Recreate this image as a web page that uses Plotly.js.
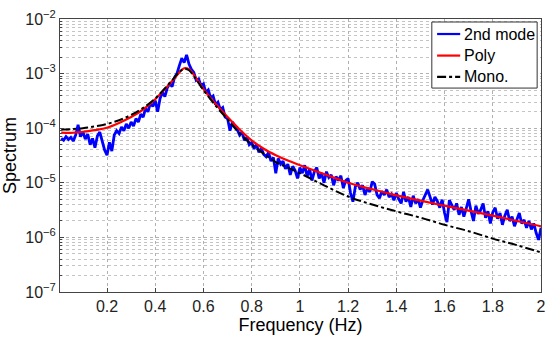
<!DOCTYPE html>
<html>
<head>
<meta charset="utf-8">
<script src="https://cdn.plot.ly/plotly-3.0.1.min.js"></script>
<style>html,body{margin:0;padding:0;background:#fff;}#chart{width:550px;height:339px;}</style>
</head>
<body>
<div id="chart"></div>
<script>
// Frequency grid of the measured spectrum (Hz)
const freqStart = 0.01;
const freqStep = 0.01;

// "2nd mode" measured spectrum, one value per 0.01 Hz from 0.01 to 2.00 Hz
const modeSpectrum = [
  6.5e-5, 6.0e-5, 7.0e-5, 6.2e-5, 6.8e-5, 5.8e-5, 7.5e-5, 1.15e-4, 7.0e-5, 8.5e-5,
  6.3e-5, 7.8e-5, 5.0e-5, 6.5e-5, 4.4e-5, 7.2e-5, 8.5e-5, 6.0e-5, 4.0e-5, 3.2e-5,
  5.5e-5, 3.8e-5, 7.5e-5, 9.0e-5, 8.0e-5, 1.05e-4, 9.0e-5, 1.2e-4, 1.0e-4, 1.3e-4,
  1.1e-4, 1.5e-4, 1.3e-4, 1.8e-4, 1.6e-4, 2.3e-4, 2.0e-4, 2.9e-4, 2.5e-4, 3.2e-4,
  2.0e-4, 3.5e-4, 4.5e-4, 3.8e-4, 5.5e-4, 6.5e-4, 5.8e-4, 8.5e-4, 1.0e-3, 1.4e-3,
  1.9e-3, 1.6e-3, 2.2e-3, 1.5e-3, 1.2e-3, 1.05e-3, 7.5e-4, 8.0e-4, 6.0e-4, 6.5e-4,
  4.5e-4, 5.0e-4, 3.6e-4, 3.9e-4, 2.7e-4, 3.0e-4, 2.2e-4, 2.4e-4, 1.6e-4, 1.5e-4,
  9.0e-5, 1.3e-4, 1.1e-4, 9.5e-5, 7.5e-5, 8.5e-5, 6.0e-5, 6.8e-5, 5.0e-5, 5.5e-5,
  4.2e-5, 5.0e-5, 3.6e-5, 4.3e-5, 3.3e-5, 3.0e-5, 3.6e-5, 2.5e-5, 2.9e-5, 1.5e-5,
  2.8e-5, 2.2e-5, 2.5e-5, 1.8e-5, 2.2e-5, 1.4e-5, 2.0e-5, 1.7e-5, 1.2e-5, 1.9e-5,
  1.5e-5, 2.1e-5, 1.3e-5, 1.8e-5, 1.1e-5, 1.6e-5, 1.9e-5, 1.2e-5, 1.5e-5, 1.0e-5,
  1.6e-5, 1.25e-5, 1.4e-5, 9.0e-6, 1.3e-5, 1.1e-5, 1.35e-5, 8.0e-6, 1.1e-5, 1.2e-5,
  6.5e-6, 4.5e-6, 8.5e-6, 1.0e-5, 7.5e-6, 9.0e-6, 6.0e-6, 8.0e-6, 6.8e-6, 1.05e-5,
  9.5e-6, 6.0e-6, 5.2e-6, 7.0e-6, 6.0e-6, 7.5e-6, 5.5e-6, 6.2e-6, 4.8e-6, 6.5e-6,
  5.0e-6, 4.2e-6, 6.8e-6, 4.5e-6, 5.5e-6, 3.6e-6, 5.8e-6, 4.2e-6, 5.0e-6, 3.5e-6,
  4.8e-6, 6.0e-6, 7.5e-6, 5.5e-6, 4.0e-6, 5.5e-6, 4.6e-6, 3.5e-6, 4.9e-6, 2.8e-6,
  1.9e-6, 4.8e-6, 4.0e-6, 3.2e-6, 4.2e-6, 2.6e-6, 3.6e-6, 2.4e-6, 3.4e-6, 5.0e-6,
  3.0e-6, 2.0e-6, 3.8e-6, 2.7e-6, 3.2e-6, 4.2e-6, 2.3e-6, 3.0e-6, 1.8e-6, 2.9e-6,
  3.5e-6, 2.2e-6, 2.8e-6, 1.7e-6, 2.5e-6, 3.2e-6, 2.0e-6, 2.4e-6, 1.6e-6, 2.2e-6,
  2.8e-6, 1.8e-6, 2.1e-6, 1.5e-6, 2.0e-6, 1.4e-6, 1.8e-6, 1.2e-6, 9.0e-7, 1.5e-6
];

// Fitted model curves
const fitFreq = [0.01, 0.05, 0.1, 0.15, 0.2, 0.25, 0.3, 0.35, 0.4, 0.45, 0.48, 0.5, 0.52, 0.54, 0.56, 0.6, 0.65, 0.7, 0.75, 0.8, 0.85, 0.9, 0.95, 1.0, 1.1, 1.2, 1.3, 1.4, 1.5, 1.6, 1.7, 1.8, 1.9, 2.0];
const polySpectrum = [8.3e-5, 8.2e-5, 8.6e-5, 9.2e-5, 1.02e-4, 1.25e-4, 1.6e-4, 2.2e-4, 3.4e-4, 5.8e-4, 8.2e-4, 1.05e-3, 1.25e-3, 1.2e-3, 9.5e-4, 5.2e-4, 2.8e-4, 1.6e-4, 9.5e-5, 6.0e-5, 4.2e-5, 3.2e-5, 2.55e-5, 2.1e-5, 1.45e-5, 1.0e-5, 7.6e-6, 5.9e-6, 4.7e-6, 3.8e-6, 3.1e-6, 2.5e-6, 2.0e-6, 1.6e-6];
const monoSpectrum = [9.5e-5, 9.6e-5, 1.0e-4, 1.08e-4, 1.2e-4, 1.4e-4, 1.75e-4, 2.35e-4, 3.5e-4, 6.0e-4, 8.5e-4, 1.08e-3, 1.22e-3, 1.15e-3, 9.0e-4, 5.0e-4, 2.6e-4, 1.45e-4, 8.0e-5, 5.0e-5, 3.4e-5, 2.4e-5, 1.9e-5, 1.5e-5, 9.0e-6, 5.6e-6, 4.0e-6, 3.0e-6, 2.3e-6, 1.7e-6, 1.3e-6, 9.5e-7, 7.2e-7, 5.3e-7];

const seriesNames = ["2nd mode", "Poly", "Mono."];
const seriesColors = ["#0000ff", "#ff0000", "#000000"];
const seriesDashes = ["solid", "solid", "dashdot"];
const xTickValues = [0.2, 0.4, 0.6, 0.8, 1, 1.2, 1.4, 1.6, 1.8, 2];
const xTickLabels = ["0.2", "0.4", "0.6", "0.8", "1", "1.2", "1.4", "1.6", "1.8", "2"];
const yTickValues = [1e-7, 1e-6, 1e-5, 1e-4, 1e-3, 1e-2];
const yTickLabels = ["10<sup>−7</sup>", "10<sup>−6</sup>", "10<sup>−5</sup>", "10<sup>−4</sup>", "10<sup>−3</sup>", "10<sup>−2</sup>"];

const font = "'Liberation Sans', Arial, sans-serif";

const traces = [
  {type: "scatter", mode: "lines", name: seriesNames[0], x0: freqStart, dx: freqStep, y: modeSpectrum,
   line: {color: seriesColors[0], width: 2.8}},
  {type: "scatter", mode: "lines", name: seriesNames[1], x: fitFreq, y: polySpectrum,
   line: {color: seriesColors[1], width: 2.2, shape: "spline"}},
  {type: "scatter", mode: "lines", name: seriesNames[2], x: fitFreq, y: monoSpectrum,
   line: {color: seriesColors[2], width: 2, dash: "dashdot", shape: "spline"}}
];

// Custom boxed legend (paper coordinates)
const legBox = {x0: 0.773, x1: 0.992, y0: 0.747, y1: 0.989};
const legRows = [0.945, 0.866, 0.788];
const legLine = [0.784, 0.832];
const legText = 0.836;
const shapes = [{type: "rect", xref: "paper", yref: "paper", x0: legBox.x0, x1: legBox.x1, y0: legBox.y0, y1: legBox.y1,
  fillcolor: "#ffffff", line: {color: "#333", width: 1}, layer: "above"}];
const annotations = [];
seriesNames.forEach((n, i) => {
  shapes.push({type: "line", xref: "paper", yref: "paper", x0: legLine[0], x1: legLine[1], y0: legRows[i], y1: legRows[i],
    line: {color: seriesColors[i], width: 2.2, dash: seriesDashes[i]}, layer: "above"});
  annotations.push({xref: "paper", yref: "paper", x: legText, y: legRows[i], xanchor: "left", yanchor: "middle",
    text: n, showarrow: false, font: {family: font, size: 16, color: "#000"}});
});

const layout = {
  width: 550, height: 339,
  margin: {l: 60, r: 9, t: 19, b: 47},
  paper_bgcolor: "#ffffff", plot_bgcolor: "#ffffff",
  font: {family: font, size: 16, color: "#000"},
  showlegend: false,
  shapes: shapes,
  annotations: annotations,
  xaxis: {
    range: [0.005, 2], tickmode: "array", tickvals: xTickValues, ticktext: xTickLabels,
    showgrid: true, gridcolor: "#b0b0b0", griddash: "dot", gridwidth: 1,
    zeroline: false, showline: true, mirror: true, linecolor: "#444", linewidth: 1,
    ticks: "inside", ticklen: 4, tickcolor: "#444",
    tickfont: {family: font, size: 16, color: "#222"},
    title: {text: "Frequency (Hz)", font: {family: font, size: 18, color: "#000"}, standoff: 4}
  },
  yaxis: {
    type: "log", range: [-7, -2], tickmode: "array", tickvals: yTickValues, ticktext: yTickLabels,
    showgrid: true, gridcolor: "#b0b0b0", griddash: "dot", gridwidth: 1,
    minor: {dtick: "D1", showgrid: true, gridcolor: "#c4c4c4", griddash: "dot", gridwidth: 1, ticks: "inside", ticklen: 2, tickcolor: "#444"},
    zeroline: false, showline: true, mirror: true, linecolor: "#444", linewidth: 1,
    ticks: "inside", ticklen: 4, tickcolor: "#444",
    tickfont: {family: font, size: 16, color: "#222"},
    title: {text: "Spectrum", font: {family: font, size: 18, color: "#000"}, standoff: 4}
  }
};

Plotly.newPlot("chart", traces, layout, {displayModeBar: false, staticPlot: true});
</script>
</body>
</html>
